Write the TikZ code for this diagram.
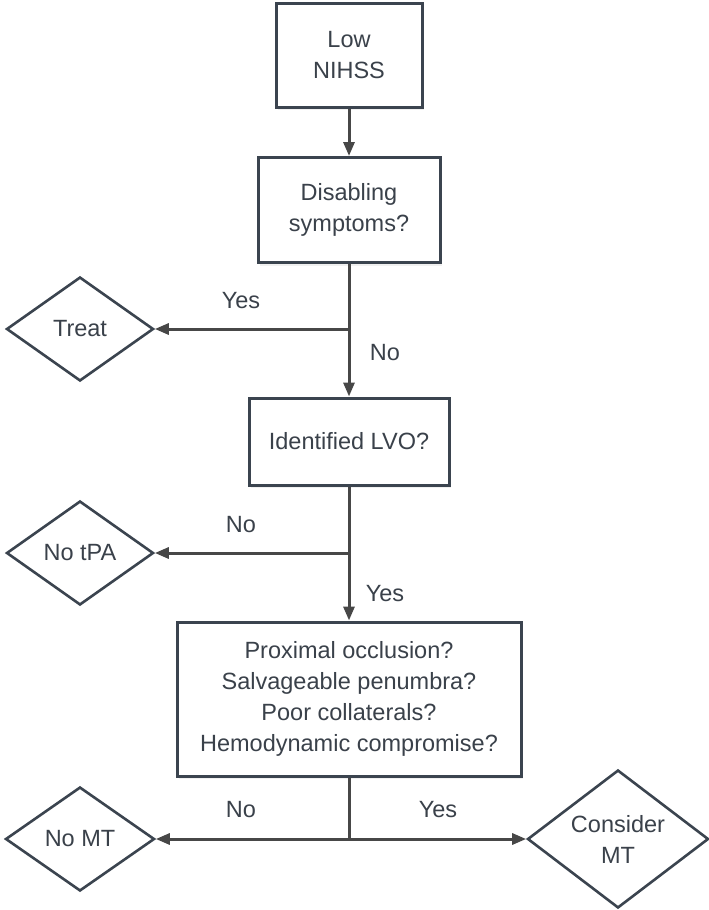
\documentclass[tikz,border=0pt]{standalone}
\usepackage{fontspec}
\setmainfont{Liberation Sans}
\usetikzlibrary{arrows.meta,shapes.geometric,shadows}
\definecolor{boxline}{HTML}{3B444F}
\definecolor{arrowline}{HTML}{474747}
\definecolor{textcol}{HTML}{3A414A}
\tikzset{
    box/.style={draw=boxline, line width=3pt, fill=white, align=center, text=textcol,
        inner sep=0pt, drop shadow={opacity=0.12, shadow xshift=2pt, shadow yshift=-3pt}},
    choice/.style={diamond, draw=boxline, line width=2.6pt, fill=white, align=center,
        text=textcol, inner sep=0pt, aspect=1.41},
    flow/.style={draw=arrowline, line width=3pt, -{Triangle[length=14pt,width=11pt]}},
    plain/.style={draw=arrowline, line width=3pt},
    lbl/.style={text=textcol}
}
\begin{document}
\begin{tikzpicture}[x=1pt,y=-1pt,font=\fontsize{23.5}{31}\selectfont]
    \useasboundingbox (0,0) rectangle (709,910);
    %Bokser
        \node[box, minimum width=146pt, minimum height=104pt] (low) at (349,55) {Low\\NIHSS};
        \node[box, minimum width=182pt, minimum height=105pt] (dis) at (349,210) {Disabling\\symptoms?};
        \node[box, minimum width=200pt, minimum height=87pt] (lvo) at (349,441.5) {Identified LVO?};
        \node[box, minimum width=344pt, minimum height=154pt] (prox) at (349,699)
            {Proximal occlusion?\\Salvageable penumbra?\\Poor collaterals?\\Hemodynamic compromise?};

    %Ruter
        \node[choice, minimum width=147pt, minimum height=104pt] (treat) at (80,329) {Treat};
        \node[choice, minimum width=147pt, minimum height=104pt] (notpa) at (80,553) {No tPA};
        \node[choice, minimum width=149pt, minimum height=104pt] (nomt) at (80,839) {No MT};
        \node[choice, minimum width=181pt, minimum height=138pt] (mt) at (618,839) {Consider\\MT};

    %Punkter
        \coordinate (b1) at (349,329);
        \coordinate (b2) at (349,553);
        \coordinate (b3) at (349,839);

    %Piler
        \draw[flow] (low) -- (dis);
        \draw[plain] (dis) -- (b1);
        \draw[flow] (b1) -- (treat.east);
        \draw[flow] (b1) -- (lvo);
        \draw[plain] (lvo) -- (b2);
        \draw[flow] (b2) -- (notpa.east);
        \draw[flow] (b2) -- (prox);
        \draw[plain] (prox) -- (b3);
        \draw[flow] (b3) -- (nomt.east);
        \draw[flow] (b3) -- (mt.west);

    %Tekst
        \node[lbl] (y1) at (241,301) {Yes};
        \node[lbl] (n1) at (385,353) {No};
        \node[lbl] (n2) at (241,525) {No};
        \node[lbl] (y2) at (385,594) {Yes};
        \node[lbl] (n3) at (241,810) {No};
        \node[lbl] (y3) at (438,810) {Yes};
\end{tikzpicture}
\end{document}
